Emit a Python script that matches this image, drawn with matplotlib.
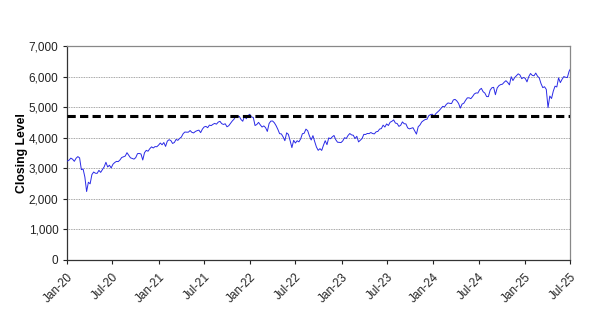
import matplotlib
matplotlib.use("Agg")
import matplotlib.pyplot as plt
import matplotlib.dates as mdates
import matplotlib.ticker as mticker
import pandas as pd

plt.rcParams['font.family'] = ['Liberation Sans', 'DejaVu Sans']

# Weekly closing levels (Fridays)
closes_2020 = [3235, 3265, 3330, 3295, 3226, 3328, 3380, 3338, 2954, 2972, 2711, 2237, 2541,
               2489, 2790, 2875, 2837, 2831, 2930, 2864, 2955, 3044, 3194, 3041, 3098, 3009,
               3130, 3185, 3224, 3216, 3271, 3351, 3373, 3397, 3508, 3427, 3341, 3319, 3298,
               3348, 3477, 3484, 3465, 3270, 3509, 3585, 3557, 3638, 3699, 3663, 3709, 3703, 3756]
closes_2021 = [3825, 3768, 3841, 3714, 3887, 3934, 3907, 3811, 3842, 3943, 3913, 3975, 4020,
               4129, 4185, 4180, 4181, 4233, 4174, 4156, 4204, 4230, 4247, 4166, 4281, 4352,
               4370, 4327, 4412, 4395, 4437, 4468, 4442, 4509, 4535, 4459, 4433, 4455, 4357,
               4391, 4471, 4545, 4605, 4697, 4682, 4698, 4595, 4538, 4712, 4620, 4726, 4766]
closes_2022 = [4677, 4663, 4398, 4432, 4501, 4419, 4349, 4385, 4329, 4204, 4463, 4543, 4546,
               4488, 4393, 4272, 4132, 4123, 4024, 3901, 4158, 4109, 3901, 3675, 3912, 3825,
               3899, 3863, 3962, 4130, 4145, 4280, 4228, 4058, 3924, 4067, 3873, 3693, 3586,
               3640, 3583, 3752, 3901, 3771, 3993, 3965, 4026, 4072, 3934, 3852, 3845, 3840]
closes_2023 = [3895, 3999, 3973, 4071, 4136, 4091, 4079, 3970, 4046, 3862, 3917, 3971, 4109,
               4105, 4138, 4133, 4169, 4136, 4124, 4192, 4205, 4282, 4299, 4410, 4348, 4450,
               4399, 4505, 4536, 4582, 4478, 4464, 4370, 4406, 4516, 4457, 4450, 4320, 4288,
               4309, 4327, 4224, 4117, 4358, 4415, 4514, 4559, 4595, 4604, 4719, 4755, 4770]
closes_2024 = [4697, 4784, 4840, 4891, 4959, 5027, 5006, 5089, 5137, 5124, 5117, 5234, 5254,
               5204, 5123, 4967, 5100, 5128, 5223, 5303, 5305, 5278, 5347, 5432, 5465, 5460,
               5567, 5615, 5505, 5459, 5346, 5344, 5554, 5635, 5648, 5408, 5626, 5703, 5738,
               5751, 5815, 5865, 5808, 5729, 5996, 5871, 5969, 6032, 6090, 6051, 5931, 5971]
closes_2025 = [5942, 5827, 5997, 6101, 6041, 6026, 6115, 6013, 5955, 5770, 5639, 5667, 5581,
               4983, 5363, 5283, 5525, 5687, 5660, 5958, 5803, 5912, 6000, 5977, 5968, 6173, 6279]

closes = closes_2020 + closes_2021 + closes_2022 + closes_2023 + closes_2024 + closes_2025
start_week = "2020-01-03"
reference_level = 4700
y_ticks = [0, 1000, 2000, 3000, 4000, 5000, 6000, 7000]
x_start, x_end = "2020-01-01", "2025-07-01"

dates = pd.date_range(start=start_week, periods=len(closes), freq="W-FRI")

fig = plt.figure(figsize=(6.13, 3.22), dpi=100)
ax = fig.add_axes([0.109, 0.193, 0.821, 0.664])

for y in y_ticks[1:]:
    ax.axhline(y, color="#888888", lw=0.6, ls=(0, (1, 1)), zorder=1)

ax.plot(dates, closes, color="#2a2ae6", lw=0.7, zorder=3)
ax.axhline(reference_level, color="black", lw=2.2, dashes=(2.7, 1.4), zorder=4)

ax.set_ylim(0, 7000)
ax.set_xlim(pd.Timestamp(x_start), pd.Timestamp(x_end))
ax.set_yticks(y_ticks)
ax.yaxis.set_major_formatter(mticker.FuncFormatter(lambda v, p: f"{int(v):,}"))
ax.xaxis.set_major_locator(mdates.MonthLocator(bymonth=[1, 7]))
ax.xaxis.set_major_formatter(mdates.DateFormatter("%b-%y"))

ax.tick_params(axis="both", labelsize=8.5, direction="out", length=3, width=0.8, colors="#222222")
ax.tick_params(axis="x", pad=5)
ax.tick_params(axis="y", pad=3)
for lbl in ax.get_xticklabels():
    lbl.set_rotation(45)
    lbl.set_ha("right")
    lbl.set_rotation_mode("anchor")

ax.set_ylabel("Closing Level", fontsize=8.8, fontweight="bold", va="center")
ax.yaxis.set_label_coords(-0.089, 0.5)

for s in ["left", "bottom"]:
    ax.spines[s].set_color("#333333")
    ax.spines[s].set_linewidth(0.9)
for s in ["right", "top"]:
    ax.spines[s].set_color("#888888")
    ax.spines[s].set_linewidth(0.9)

fig.savefig("out.png", dpi=100)
